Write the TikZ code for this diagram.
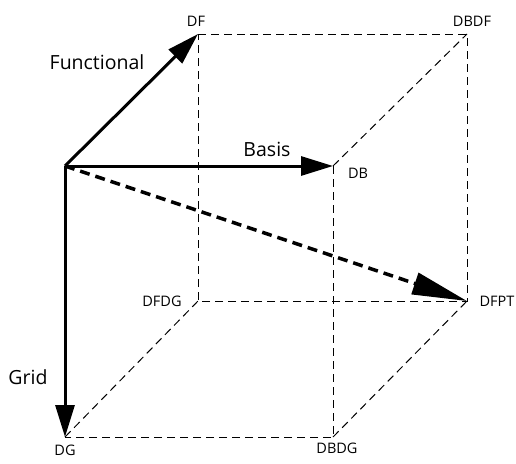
\documentclass[tikz,border=0pt]{standalone}
\usepackage{fontspec}
\setmainfont{Open Sans}
\usetikzlibrary{arrows.meta}
\begin{document}
\begin{tikzpicture}[x=1pt,y=-1pt,
  edge/.style={line width=1pt,dash pattern=on 8pt off 5pt},
  axis/.style={line width=3pt,-{Triangle[length=32pt,width=19pt]}},
  diag/.style={line width=3.5pt,dash pattern=on 10pt off 6pt,-{Triangle[length=55pt,width=22pt]}},
  corner/.style={font=\fontsize{14.5}{17}\selectfont,inner sep=0pt},
  axlabel/.style={font=\fontsize{19.5}{23}\selectfont,inner sep=0pt}]
\useasboundingbox (0,0) rectangle (516,463);
% corners
\coordinate (O) at (65,166);
\coordinate (DFc) at (198,34);
\coordinate (DBDFc) at (467,34);
\coordinate (DBc) at (333,166);
\coordinate (DFDGc) at (198,301);
\coordinate (DFPTc) at (467,301);
\coordinate (DGc) at (65,437);
\coordinate (DBDGc) at (333,437);
% dashed edges
\draw[edge] (DFc) -- (DBDFc) -- (DFPTc) -- (DFDGc) -- cycle;
\draw[edge] (DBc) -- (DBDGc) -- (DGc);
\draw[edge] (DBc) -- (DBDFc);
\draw[edge] (DBDGc) -- (DFPTc);
\draw[edge] (DGc) -- (DFDGc);
% arrows
\draw[axis] (O) -- (DFc);
\draw[axis] (O) -- (DBc);
\draw[axis] (O) -- (DGc);
\draw[diag] (O) -- (DFPTc);
% labels
\node[corner] (DF) at (196,21) {DF};
\node[corner] (DBDF) at (472,21) {DBDF};
\node[corner] (DB) at (358,173) {DB};
\node[corner] (DFDG) at (162,301) {DFDG};
\node[corner] (DFPT) at (497,301) {DFPT};
\node[corner] (DG) at (65,450) {DG};
\node[corner] (DBDG) at (337,448) {DBDG};
\node[axlabel] (fun) at (97,62) {Functional};
\node[axlabel] (bas) at (267,149) {Basis};
\node[axlabel] (grid) at (28,377) {Grid};
\end{tikzpicture}
\end{document}
